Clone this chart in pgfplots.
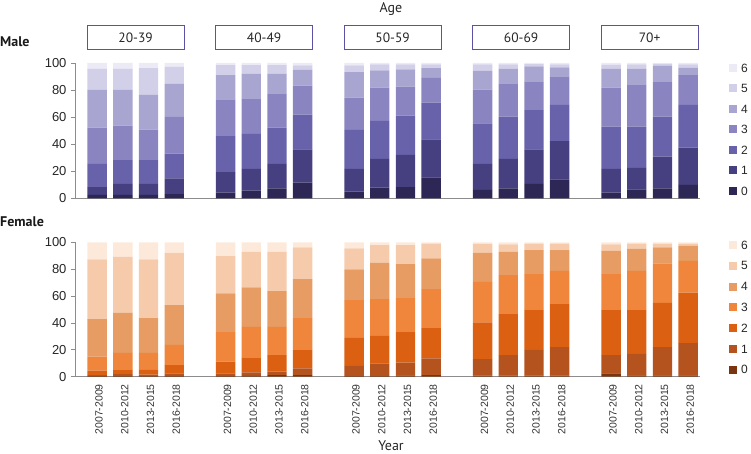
\documentclass[border=0pt]{standalone}
\usepackage{pgfplots}
\pgfplotsset{compat=1.18}
\usepackage{pgfplotstable}
\usepackage{fontspec}
\setmainfont{Liberation Sans}
\newfontfamily\hfont{PT Sans}
\definecolor{m6}{HTML}{ECEAF5}
\definecolor{m5}{HTML}{D2CFE8}
\definecolor{m4}{HTML}{A9A5D1}
\definecolor{m3}{HTML}{8A85C0}
\definecolor{m2}{HTML}{6862AA}
\definecolor{m1}{HTML}{463F80}
\definecolor{m0}{HTML}{2C2755}
\definecolor{f6}{HTML}{FDE9DA}
\definecolor{f5}{HTML}{F6CBAB}
\definecolor{f4}{HTML}{E69C62}
\definecolor{f3}{HTML}{F0863B}
\definecolor{f2}{HTML}{DC6011}
\definecolor{f1}{HTML}{B5531F}
\definecolor{f0}{HTML}{7A3510}
\definecolor{axgray}{HTML}{8C8C8C}
\definecolor{boxc}{HTML}{5B52A3}

\pgfplotstableread{
x L0 L1 L2 L3 L4 L5 L6
0 2.6 5.7 17.3 26.7 28.0 15.5 4.2
1 2.6 8.1 17.7 25.3 26.6 15.5 4.2
2 2.6 8.1 17.7 22.4 25.7 19.8 3.7
3 3.3 11.6 18.3 27.1 24.2 12.7 2.8
5 4.3 15.1 26.7 27.1 17.9 7.4 1.5
6 5.8 16.0 25.8 26.3 18.2 6.4 1.5
7 7.5 18.0 26.8 24.8 15.0 6.4 1.5
8 11.7 24.5 25.7 21.4 11.8 3.1 1.8
10 5.0 16.8 28.8 23.9 18.7 5.0 1.8
11 8.0 21.2 28.0 24.6 12.7 4.5 1.0
12 8.3 23.8 29.0 21.5 12.7 3.7 1.0
13 15.6 28.1 27.1 18.2 7.2 2.8 1.0
15 6.3 19.2 30.0 24.9 13.9 4.7 1.0
16 7.5 21.7 31.2 24.6 10.8 3.2 1.0
17 10.7 25.6 29.0 21.2 11.0 1.7 0.8
18 14.2 28.2 26.6 21.2 6.6 2.2 1.0
20 4.3 17.5 31.2 28.8 13.8 3.2 1.2
21 6.8 15.8 30.4 31.3 11.3 3.4 1.0
22 7.5 23.4 29.5 25.4 12.0 1.5 0.7
23 10.0 27.6 31.4 22.1 5.4 2.5 1.0
}\maletab

\pgfplotstableread{
x L0 L1 L2 L3 L4 L5 L6
0 0.4 0.8 3.3 10.4 28.0 44.4 12.7
1 0.5 1.5 3.5 12.3 29.8 41.6 10.8
2 0.4 1.1 3.5 12.8 25.8 43.7 12.7
3 0.5 2.0 6.2 14.9 29.7 38.9 7.8
5 0.5 2.0 8.7 22.0 28.8 27.7 10.3
6 0.6 2.6 11.2 22.6 29.5 26.4 7.1
7 1.2 2.5 12.4 20.9 26.7 29.2 7.1
8 1.2 5.0 14.2 23.2 29.0 23.6 3.8
10 0.5 7.5 20.8 28.2 22.8 15.7 4.5
11 0.5 9.4 20.4 27.5 27.0 13.1 2.1
12 1.0 9.4 22.8 25.3 25.3 14.1 2.1
13 1.2 12.5 22.5 29.0 22.8 11.0 1.0
15 0.8 12.2 27.4 30.2 21.6 6.6 1.2
16 0.8 15.2 30.6 29.0 17.3 5.6 1.5
17 0.8 19.2 30.1 26.2 17.9 4.8 1.0
18 0.8 21.2 32.0 24.8 15.4 4.8 1.0
20 2.5 13.5 33.6 26.7 17.4 4.8 1.5
21 1.0 16.0 32.6 29.2 16.4 3.8 1.0
22 1.0 21.0 33.0 29.3 11.9 2.8 1.0
23 1.0 24.0 37.5 23.7 11.2 1.6 1.0
}\femaletab

\pgfplotsset{
  panel/.style={
    scale only axis, width=625pt,
    xmin=-0.86, xmax=23.46, ymin=0, ymax=100,
    ybar stacked, bar width=19.4pt,
    axis x line*=bottom, axis y line*=left,
    axis line style={axgray, line width=1pt, -},
    ytick={0,20,40,60,80,100},
    yticklabels={0,20,40,60,80,100},
    tick align=outside, major tick length=4pt,
    ytick style={axgray, line width=0.8pt},
    yticklabel style={font=\fontsize{13}{13}\selectfont, text=black!85, xshift=-1pt},
    every axis plot/.append style={draw=none},
  }
}

\begin{document}
\begin{tikzpicture}[x=1pt,y=1pt]
\useasboundingbox (0,0) rectangle (751,454);

% Male panel
\begin{axis}[panel, at={(75pt,255.5pt)}, anchor=south west, height=135.5pt,
  xtick=\empty]
  \addplot[fill=m0] table[x=x,y=L0]{\maletab};
  \addplot[fill=m1] table[x=x,y=L1]{\maletab};
  \addplot[fill=m2] table[x=x,y=L2]{\maletab};
  \addplot[fill=m3] table[x=x,y=L3]{\maletab};
  \addplot[fill=m4] table[x=x,y=L4]{\maletab};
  \addplot[fill=m5] table[x=x,y=L5]{\maletab};
  \addplot[fill=m6] table[x=x,y=L6]{\maletab};
\end{axis}

% Female panel
\begin{axis}[panel, at={(75pt,77.3pt)}, anchor=south west, height=134.4pt,
  xtick={0,1,2,3,5,6,7,8,10,11,12,13,15,16,17,18,20,21,22,23},
  xticklabels={2007-2009,2010-2012,2013-2015,2016-2018,2007-2009,2010-2012,2013-2015,2016-2018,2007-2009,2010-2012,2013-2015,2016-2018,2007-2009,2010-2012,2013-2015,2016-2018,2007-2009,2010-2012,2013-2015,2016-2018},
  xtick style={draw=none},
  xticklabel style={rotate=90, anchor=east, font=\fontsize{10.5}{10.5}\selectfont, text=black!80, yshift=-2pt}]
  \addplot[fill=f0] table[x=x,y=L0]{\femaletab};
  \addplot[fill=f1] table[x=x,y=L1]{\femaletab};
  \addplot[fill=f2] table[x=x,y=L2]{\femaletab};
  \addplot[fill=f3] table[x=x,y=L3]{\femaletab};
  \addplot[fill=f4] table[x=x,y=L4]{\femaletab};
  \addplot[fill=f5] table[x=x,y=L5]{\femaletab};
  \addplot[fill=f6] table[x=x,y=L6]{\femaletab};
\end{axis}

% Group header boxes
\foreach \cx/\lab in {135.6/20-39, 264.1/40-49, 392.6/50-59, 521.1/60-69, 649.6/70+}{
  \node[draw=boxc, line width=1pt, minimum width=97pt, minimum height=24pt, inner sep=0pt,
        font=\hfont\fontsize{13.5}{13.5}\selectfont, text=black!85] at (\cx,416) {\lab};
}

% Legends
\foreach \k [count=\i from 0] in {6,5,4,3,2,1,0}{
  \pgfmathsetmacro{\ym}{454-68-20.5*\i}
  \pgfmathsetmacro{\yf}{454-245-20.8*\i}
  \fill[m\k] (729,\ym-4) rectangle (737,\ym+4);
  \node[anchor=west, inner sep=0pt, font=\fontsize{12}{12}\selectfont, text=black!85] at (741,\ym) {\k};
  \fill[f\k] (729,\yf-4) rectangle (737,\yf+4);
  \node[anchor=west, inner sep=0pt, font=\fontsize{12}{12}\selectfont, text=black!85] at (741,\yf) {\k};
}

% Titles
\node[font=\hfont\fontsize{14}{14}\selectfont, text=black!85] at (391,445) {Age};
\node[anchor=west, inner sep=0pt, font=\hfont\bfseries\fontsize{14}{14}\selectfont, text=black!90] at (0,412) {Male};
\node[anchor=west, inner sep=0pt, font=\hfont\bfseries\fontsize{14}{14}\selectfont, text=black!90] at (0,232) {Female};
\node[anchor=south, inner sep=0pt, font=\hfont\fontsize{14}{14}\selectfont, text=black!85] at (391,3) {Year};
\end{tikzpicture}
\end{document}
